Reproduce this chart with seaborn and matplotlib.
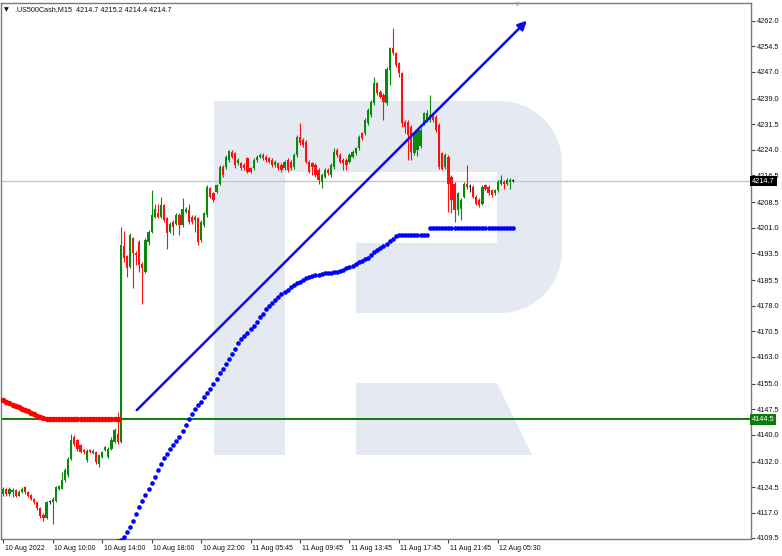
import numpy as np
import pandas as pd
import seaborn as sns
import matplotlib.pyplot as plt
from matplotlib.patches import Polygon
from matplotlib.transforms import ScaledTranslation

sns.set_theme(style="white")
plt.rcParams['font.family'] = ['Liberation Sans', 'DejaVu Sans']

title_text = ".US500Cash,M15  4214.7 4215.2 4214.4 4214.7"

# M15 bars (open / high / low / close)
bar_open = [
    4122.6, 4123.8, 4122.4, 4123.0, 4123.6, 4122.0, 4123.2, 4124.5, 4123.0, 4122.2,
    4121.0, 4120.0, 4118.2, 4116.2, 4115.5, 4120.1, 4120.0, 4120.5, 4124.0, 4124.0,
    4126.5, 4128.0, 4132.9, 4139.3, 4138.3, 4136.8, 4135.4, 4132.4, 4135.4, 4134.6,
    4134.9, 4131.4, 4133.4, 4135.4, 4133.4, 4135.8, 4137.8, 4140.3, 4137.8, 4195.5,
    4192.5, 4189.4, 4197.8, 4193.4, 4196.8, 4190.4, 4188.0, 4196.8, 4199.8, 4204.2,
    4205.2, 4204.2, 4207.6, 4203.7, 4199.8, 4202.7, 4202.2, 4204.7, 4201.7, 4205.7,
    4206.2, 4204.2, 4203.2, 4203.7, 4197.3, 4201.7, 4204.7, 4212.6, 4211.1, 4211.6,
    4214.0, 4218.9, 4218.9, 4220.9, 4223.4, 4222.9, 4219.9, 4219.9, 4219.4, 4221.4,
    4218.5, 4218.5, 4220.9, 4221.9, 4222.4, 4221.9, 4221.4, 4220.9, 4219.4, 4219.9,
    4219.4, 4218.5, 4220.9, 4220.4, 4218.9, 4222.4, 4227.8, 4226.8, 4226.3, 4220.4,
    4219.9, 4219.4, 4218.0, 4214.5, 4216.0, 4218.0, 4216.5, 4218.9, 4223.9, 4222.4,
    4220.9, 4220.9, 4220.4, 4221.9, 4222.9, 4224.4, 4228.8, 4228.8, 4231.7, 4234.2,
    4237.6, 4243.5, 4241.1, 4240.1, 4237.6, 4247.4, 4253.8, 4252.4, 4249.4, 4246.5,
    4232.2, 4232.2, 4230.7, 4222.9, 4224.0, 4225.0, 4231.7, 4232.7, 4232.7, 4234.2,
    4233.7, 4231.2, 4222.9, 4218.9, 4221.9, 4216.0, 4214.0, 4206.2, 4206.6, 4210.1,
    4214.0, 4213.0, 4213.0, 4210.1, 4209.1, 4208.1, 4213.5, 4213.0, 4212.1, 4211.1,
    4212.1, 4214.0, 4214.5, 4214.0, 4214.5, 4214.7,
]
bar_high = [
    4124.5, 4124.2, 4124.5, 4124.3, 4124.0, 4123.6, 4124.4, 4124.8, 4123.3, 4122.6,
    4121.4, 4120.2, 4118.5, 4116.8, 4120.4, 4120.6, 4121.5, 4124.8, 4125.2, 4129.0,
    4130.0, 4133.4, 4140.3, 4139.8, 4138.8, 4137.3, 4135.8, 4135.6, 4135.8, 4135.6,
    4135.2, 4134.2, 4135.2, 4136.6, 4136.2, 4139.3, 4141.8, 4146.7, 4201.2, 4200.1,
    4193.0, 4199.5, 4198.3, 4194.0, 4197.3, 4191.0, 4197.8, 4200.3, 4212.1, 4208.1,
    4208.1, 4209.9, 4208.0, 4204.2, 4202.7, 4203.2, 4205.2, 4205.2, 4209.6, 4207.1,
    4208.1, 4204.7, 4204.7, 4204.2, 4203.2, 4205.7, 4213.5, 4213.1, 4211.6, 4214.0,
    4219.4, 4219.4, 4222.4, 4223.9, 4223.9, 4223.4, 4221.4, 4220.4, 4219.9, 4221.9,
    4219.0, 4221.4, 4222.4, 4222.9, 4222.9, 4222.4, 4221.9, 4221.4, 4220.9, 4220.4,
    4219.9, 4220.9, 4221.4, 4220.9, 4222.9, 4228.3, 4231.7, 4227.3, 4226.8, 4220.9,
    4220.4, 4219.9, 4218.5, 4217.0, 4218.5, 4218.5, 4219.9, 4224.4, 4224.4, 4222.9,
    4221.4, 4221.4, 4222.9, 4223.9, 4224.8, 4228.3, 4229.3, 4233.2, 4236.2, 4238.6,
    4245.5, 4244.0, 4241.6, 4240.6, 4248.4, 4254.3, 4259.7, 4252.9, 4249.9, 4247.0,
    4232.7, 4232.7, 4231.2, 4229.3, 4230.2, 4230.3, 4235.2, 4235.7, 4240.1, 4234.7,
    4234.2, 4231.7, 4223.4, 4222.9, 4222.4, 4216.5, 4214.5, 4211.6, 4209.6, 4214.5,
    4219.4, 4214.0, 4213.5, 4210.6, 4209.6, 4213.5, 4214.0, 4213.5, 4212.5, 4212.5,
    4215.0, 4216.5, 4215.0, 4215.5, 4215.5, 4215.2,
]
bar_low = [
    4122.0, 4121.8, 4122.0, 4121.5, 4121.5, 4121.8, 4122.8, 4122.5, 4121.6, 4120.6,
    4119.6, 4117.8, 4115.4, 4114.6, 4115.0, 4119.6, 4113.7, 4120.0, 4123.6, 4123.8,
    4126.0, 4127.6, 4132.5, 4136.5, 4135.2, 4134.5, 4134.3, 4132.0, 4134.5, 4134.2,
    4131.4, 4130.4, 4133.0, 4135.0, 4133.0, 4135.4, 4137.4, 4137.2, 4137.5, 4191.0,
    4186.5, 4189.0, 4183.3, 4190.0, 4188.0, 4178.4, 4187.5, 4196.0, 4199.3, 4203.7,
    4203.7, 4203.7, 4202.7, 4194.8, 4199.3, 4198.8, 4201.7, 4198.8, 4201.2, 4205.2,
    4202.2, 4202.2, 4199.8, 4196.0, 4196.8, 4201.2, 4204.2, 4209.6, 4208.6, 4211.1,
    4213.5, 4216.0, 4218.4, 4220.4, 4221.4, 4218.5, 4219.4, 4218.0, 4218.0, 4217.0,
    4217.0, 4218.0, 4220.4, 4221.4, 4220.9, 4220.4, 4219.9, 4218.9, 4218.9, 4218.0,
    4217.5, 4218.0, 4217.5, 4218.0, 4218.4, 4221.9, 4225.3, 4224.8, 4219.9, 4217.0,
    4216.5, 4216.0, 4214.0, 4212.6, 4215.5, 4216.5, 4216.0, 4218.4, 4221.9, 4219.9,
    4218.0, 4218.0, 4219.9, 4221.4, 4222.4, 4223.9, 4226.8, 4228.3, 4231.2, 4233.7,
    4237.1, 4240.1, 4239.1, 4232.7, 4237.1, 4243.0, 4251.9, 4248.4, 4245.5, 4230.7,
    4228.8, 4221.0, 4220.9, 4222.4, 4222.0, 4224.5, 4231.2, 4232.2, 4232.2, 4232.2,
    4229.3, 4218.4, 4217.9, 4218.4, 4205.7, 4205.2, 4202.7, 4204.7, 4203.2, 4209.6,
    4212.5, 4211.5, 4209.6, 4207.6, 4207.1, 4207.6, 4212.0, 4210.6, 4210.1, 4210.6,
    4211.6, 4213.5, 4212.5, 4213.5, 4212.5, 4214.4,
]
bar_close = [
    4123.8, 4122.4, 4124.0, 4123.6, 4122.0, 4123.2, 4124.0, 4123.0, 4122.0, 4121.0,
    4120.0, 4118.2, 4116.0, 4115.4, 4120.0, 4120.1, 4121.0, 4124.5, 4124.8, 4126.5,
    4129.5, 4132.9, 4138.3, 4137.3, 4135.8, 4134.9, 4134.9, 4135.2, 4134.9, 4135.2,
    4131.9, 4133.9, 4134.9, 4136.3, 4135.8, 4138.3, 4141.3, 4137.8, 4195.8, 4191.9,
    4189.0, 4198.8, 4193.4, 4193.0, 4189.9, 4189.2, 4197.3, 4199.8, 4204.7, 4206.6,
    4204.2, 4207.6, 4203.2, 4199.3, 4202.2, 4201.2, 4204.7, 4201.7, 4206.6, 4206.6,
    4202.7, 4202.7, 4204.2, 4196.8, 4202.7, 4205.2, 4213.0, 4210.1, 4209.1, 4213.5,
    4218.9, 4216.5, 4221.9, 4223.6, 4221.9, 4219.4, 4220.9, 4218.5, 4218.5, 4217.5,
    4217.5, 4220.9, 4221.9, 4222.4, 4221.4, 4220.9, 4220.4, 4219.4, 4220.4, 4218.5,
    4218.0, 4220.4, 4218.0, 4218.5, 4222.4, 4227.8, 4225.8, 4225.3, 4220.4, 4217.5,
    4218.9, 4216.5, 4215.0, 4216.5, 4218.0, 4217.0, 4219.4, 4223.4, 4222.4, 4220.4,
    4219.9, 4219.4, 4222.4, 4223.4, 4224.4, 4227.8, 4227.3, 4232.7, 4235.7, 4238.1,
    4243.5, 4240.6, 4239.6, 4238.1, 4247.9, 4253.8, 4252.4, 4248.9, 4246.5, 4231.7,
    4230.7, 4228.3, 4223.4, 4228.8, 4229.8, 4229.8, 4234.7, 4234.7, 4234.2, 4232.7,
    4229.8, 4218.9, 4218.4, 4222.4, 4214.0, 4209.1, 4206.2, 4211.1, 4209.1, 4214.0,
    4213.0, 4213.0, 4210.1, 4208.1, 4207.6, 4213.0, 4212.5, 4211.1, 4210.6, 4212.1,
    4214.5, 4215.0, 4214.0, 4215.0, 4215.0, 4214.7,
]

# red dotted indicator (bars 0..37)
red_start = 0
red_dots = [
    4150.1, 4149.6, 4149.2, 4148.8, 4148.4, 4148.0, 4147.6, 4147.2, 4146.8, 4146.4,
    4146.0, 4145.6, 4145.2, 4144.9,
] + [4144.5] * 24

# blue dotted indicator (bars 36..165)
blue_start = 36
blue_dots = [
    4108.2, 4108.6, 4109.0, 4109.8, 4111.2, 4112.8, 4114.5, 4116.5, 4118.5, 4120.3,
    4122.2, 4124.0, 4125.8, 4127.6, 4129.5, 4131.3, 4133.0, 4134.4, 4135.6, 4136.8,
    4138.0, 4139.2, 4140.9, 4142.8, 4144.7, 4146.0, 4147.4, 4148.6, 4149.7, 4151.0,
    4152.2, 4153.3, 4154.8, 4156.4, 4158.0, 4159.3, 4160.8, 4162.3, 4163.8, 4165.3,
    4166.9, 4168.2, 4169.1, 4170.0, 4171.0, 4172.1, 4173.3, 4174.5, 4175.6, 4176.9,
    4177.9, 4178.8, 4179.7, 4180.5, 4181.3, 4182.0, 4182.7, 4183.4, 4184.0, 4184.6,
    4185.1, 4185.6, 4186.0, 4186.3, 4186.6, 4186.9, 4187.1, 4187.3, 4187.5, 4187.6,
    4187.7, 4187.8, 4187.9, 4188.2, 4188.6, 4189.0, 4189.4, 4189.8, 4190.3, 4190.8,
    4191.2, 4191.6, 4192.1, 4192.9, 4193.7, 4194.4, 4195.1, 4195.7, 4196.3, 4197.0,
    4197.7, 4198.4, 4198.8,
] + [4198.8] * 9 + [4200.8] * 28

# trend arrow (bar index, price)
trend_x = [43.2, 169.4]
trend_y = [4147.2, 4262.0]

level_price = 4144.5
bid_price = 4214.7

y_ticks = [4262.0, 4254.5, 4247.0, 4239.0, 4231.5, 4224.0, 4216.5, 4208.5, 4201.0,
           4193.5, 4185.5, 4178.0, 4170.5, 4163.0, 4155.0, 4147.5, 4140.0, 4132.0,
           4124.5, 4117.0, 4109.5]
x_tick_bars = [0, 16, 32, 48, 64, 80, 96, 112, 128, 144, 160]
x_tick_labels = ['10 Aug 2022', '10 Aug 10:00', '10 Aug 14:00', '10 Aug 18:00',
                 '10 Aug 22:00', '11 Aug 05:45', '11 Aug 09:45', '11 Aug 13:45',
                 '11 Aug 17:45', '11 Aug 21:45', '12 Aug 05:30']

bars = pd.DataFrame({'open': bar_open, 'high': bar_high,
                     'low': bar_low, 'close': bar_close})
bars['bar'] = np.arange(len(bars))
bars['color'] = np.where(bars['close'] > bars['open'], '#0a8a0a',
                         np.where(bars['close'] < bars['open'], '#ff1010', '#202020'))

red = pd.DataFrame({'bar': np.arange(red_start, red_start + len(red_dots)), 'price': red_dots})
blue = pd.DataFrame({'bar': np.arange(blue_start, blue_start + len(blue_dots)), 'price': blue_dots})

W, H = 782, 556
fig = plt.figure(figsize=(W / 100, H / 100), dpi=100)
fig.patch.set_facecolor('white')
ax = fig.add_axes([1 / W, 17 / H, 750 / W, 536.3 / H])
ax.set_zorder(2)
ax.patch.set_alpha(0)

# watermark logo behind the axes (pixel coords -> figure fraction)
def fpx(pts):
    return [(x / W, 1 - y / H) for x, y in pts]

wm = '#e4e9f2'
r = 62
outer = [(214, 101), (500, 101)]
for t in np.linspace(np.pi / 2, 0, 12):
    outer.append((500 + r * np.cos(t), 163 - r * np.sin(t)))
for t in np.linspace(0, -np.pi / 2, 12):
    outer.append((500 + r * np.cos(t), 251 - r * np.sin(t)))
outer += [(356, 313), (356, 243), (497, 243), (497, 172), (285, 172), (285, 455), (214, 455)]
leg = [(356, 383), (497, 383), (532, 455), (356, 455)]
for shape in (outer, leg):
    fig.patches.append(Polygon(fpx(shape), closed=True, fc=wm, ec='none',
                               transform=fig.transFigure, zorder=0))

# horizontal lines
ax.axhline(bid_price, color='#c6c6c6', lw=1.0, zorder=2)
ax.axhline(level_price, color='#0a7d0a', lw=1.4, zorder=2)

# candles
ax.vlines(bars['bar'], bars['low'], bars['high'], colors=bars['color'], lw=0.8, zorder=3)
body = (bars['close'] - bars['open']).abs().clip(lower=0.3)
ax.bar(bars['bar'], body, bottom=bars[['open', 'close']].min(axis=1),
       width=0.72, color=bars['color'], linewidth=0, zorder=4)

# dotted indicators
sns.scatterplot(data=red, x='bar', y='price', color='#ff0000', s=16, linewidth=0,
                ax=ax, zorder=5, legend=False)
sns.scatterplot(data=blue, x='bar', y='price', color='#0000ff', s=11, linewidth=0,
                ax=ax, zorder=5, legend=False)

# trend arrow
ax.annotate('', xy=(trend_x[1], trend_y[1]), xytext=(trend_x[0], trend_y[0]),
            arrowprops=dict(arrowstyle='-|>', color='#0a0af0', lw=1.8,
                            mutation_scale=13, shrinkA=0, shrinkB=0),
            annotation_clip=False, zorder=6)

ax.set_xlim(-0.74, 241.9)
ax.set_ylim(4109.2, 4267.3)
ax.set_xlabel('')
ax.set_ylabel('')

ax.yaxis.tick_right()
ax.set_yticks(y_ticks)
ax.set_yticklabels([f'{v:.1f}' for v in y_ticks])
ax.set_xticks(x_tick_bars)
ax.set_xticklabels(x_tick_labels, ha='left')
ax.tick_params(axis='both', which='both', direction='out', length=3, width=0.8,
               color='#444444', labelcolor='#111111',
               bottom=True, right=True, left=False, top=False)
ax.tick_params(axis='x', pad=1.5, labelsize=5.0)
ax.tick_params(axis='y', pad=1.5, labelsize=5.3)
for lab in ax.get_xticklabels():
    lab.set_transform(lab.get_transform() + ScaledTranslation(1.5 / 100, 0, fig.dpi_scale_trans))

for s in ax.spines.values():
    s.set_visible(True)
    s.set_color('#7a7a7a')
    s.set_linewidth(1.0)

# price tags on the right axis
ytr = ax.get_yaxis_transform()
ax.text(1.0015, bid_price, f'{bid_price:.1f}', transform=ytr, fontsize=5.3, color='white',
        va='center', ha='left', zorder=10, clip_on=False,
        bbox=dict(boxstyle='square,pad=0.25', fc='black', ec='none'))
ax.text(1.0015, level_price, f'{level_price:.1f}', transform=ytr, fontsize=5.3, color='white',
        va='center', ha='left', zorder=10, clip_on=False,
        bbox=dict(boxstyle='square,pad=0.25', fc='#0a7d0a', ec='none'))

# header
fig.text(4 / W, 1 - 9.5 / H, '▼', fontsize=4.5, color='#111111', va='center',
         family=['DejaVu Sans'])
fig.text(15 / W, 1 - 9.5 / H, title_text, fontsize=5.2, color='#111111', va='center')
# chart shift marker
fig.text(517 / W, 1 - 5 / H, '▼', fontsize=4.5, color='#a8a8a8', va='center', ha='center',
         family=['DejaVu Sans'])

fig.savefig('out.png', dpi=100)
